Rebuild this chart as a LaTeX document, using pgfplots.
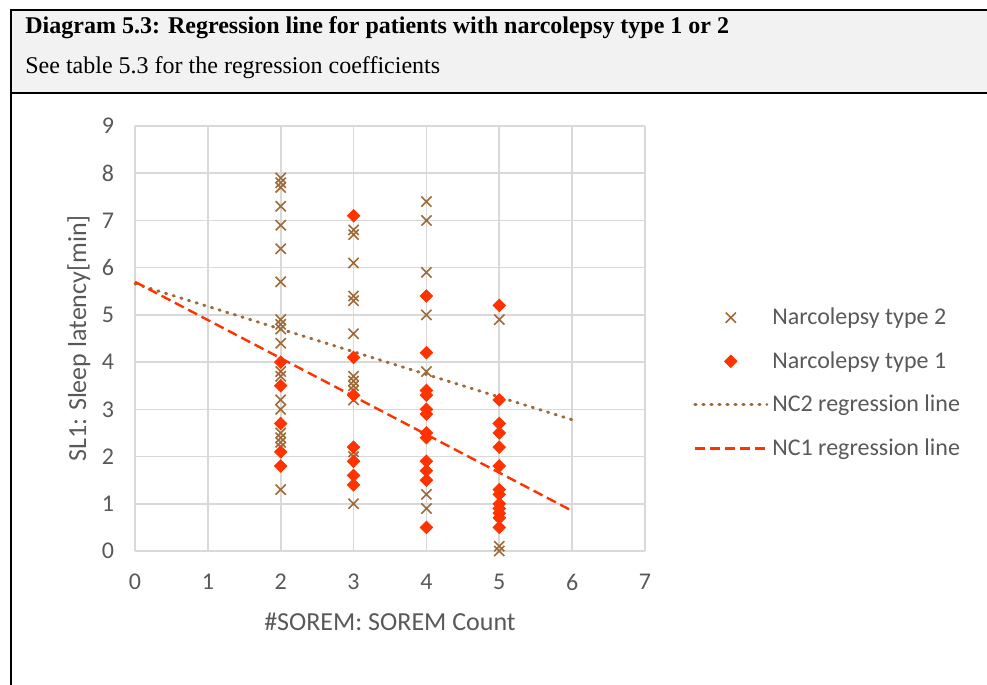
\documentclass[border=0pt]{standalone}
\usepackage{pgfplots}
\pgfplotsset{compat=1.18}
\usepackage{fontspec}
\setmainfont{Carlito}
\newfontfamily\timesfont{Liberation Serif}
\definecolor{nctwo}{RGB}{158,106,56}
\definecolor{ncone}{RGB}{255,51,0}
\definecolor{txtgray}{RGB}{89,89,89}
\definecolor{gridgray}{RGB}{217,217,217}
\definecolor{headgray}{RGB}{242,242,242}
\pgfplotsset{
  legmark/.style={legend image code/.code={\draw[##1] plot coordinates {(18pt,0pt)};}},
  legline/.style={legend image code/.code={\draw[##1] (0pt,0pt) -- (36pt,0pt);}},
}
\begin{document}
\begin{tikzpicture}[x=0.5pt,y=-0.5pt]
\useasboundingbox (0,0) rectangle (987,685);
% caption box
\fill[headgray] (11,10) rectangle (1000,93);
\draw[line width=1pt] (11,720) -- (11,10) -- (1000,10);
\draw[line width=1pt] (11,93) -- (1000,93);
\node[anchor=base west,inner sep=0pt,font=\timesfont\bfseries\fontsize{12}{14}\selectfont] at (25,33)
  {Diagram 5.3: Regression line for patients with narcolepsy type 1 or 2};
\node[anchor=base west,inner sep=0pt,font=\timesfont\fontsize{12}{14}\selectfont] at (25,74)
  {See table 5.3 for the regression coefficients};
\begin{axis}[
  at={(67.5pt,-275.5pt)}, anchor=south west,
  scale only axis, width=255pt, height=212.5pt,
  xmin=0, xmax=7, ymin=0, ymax=9,
  xtick={0,...,7}, ytick={0,...,9},
  grid=major, grid style={gridgray,line width=0.8pt},
  axis line style={draw=none}, tick style={draw=none},
  ticklabel style={font=\fontsize{12}{14}\selectfont,text=txtgray},
  /pgf/number format/assume math mode=true,
  xticklabel style={yshift=-8pt},
  yticklabel style={xshift=-7pt},
  xlabel={\#SOREM: SOREM Count},
  ylabel={SL1: Sleep latency[min]},
  label style={font=\fontsize{13}{15}\selectfont,text=txtgray},
  xlabel style={at={(axis description cs:0.5,-0.167)},anchor=center},
  ylabel style={at={(axis description cs:-0.11,0.5)},anchor=center},
  legend style={draw=none,fill=none,at={(axis description cs:1.094,0.395)},anchor=west,
    font=\fontsize{12}{14}\selectfont,text=txtgray,row sep=8pt,inner sep=0pt},
  legend cell align=left,
  clip=false,
]
\addplot[only marks,mark=x,mark size=3.6pt,color=nctwo,mark options={line width=0.8pt},legmark] table {
x y
2 7.9
2 7.8
2 7.7
2 7.3
2 6.9
2 6.4
2 5.7
2 4.9
2 4.8
2 4.7
2 4.4
2 3.8
2 3.7
2 3.2
2 3.0
2 2.5
2 2.4
2 2.3
2 2.2
2 1.3
3 6.8
3 6.7
3 6.1
3 5.4
3 5.3
3 4.6
3 3.7
3 3.6
3 3.5
3 3.4
3 3.2
3 2.1
3 2.0
3 1.0
4 7.4
4 7.0
4 5.9
4 5.0
4 3.8
4 1.2
4 0.9
5 4.9
5 0.1
5 0.0
};
\addlegendentry{Narcolepsy type 2}
\addplot[only marks,mark=square*,mark size=2.2pt,color=ncone,mark options={rotate=45},legmark] table {
x y
2 4.0
2 3.5
2 2.7
2 2.1
2 1.8
3 7.1
3 4.1
3 3.3
3 2.2
3 1.9
3 1.6
3 1.4
4 5.4
4 4.2
4 3.4
4 3.3
4 3.0
4 2.9
4 2.5
4 2.4
4 1.9
4 1.7
4 1.5
4 0.5
5 5.2
5 3.2
5 2.7
5 2.5
5 2.2
5 1.8
5 1.3
5 1.2
5 1.0
5 0.9
5 0.8
5 0.7
5 0.5
};
\addlegendentry{Narcolepsy type 1}
\addplot[nctwo,line width=1.5pt,line cap=round,dash pattern=on 0.6pt off 3.4pt,legline] coordinates {(0,5.66) (6,2.78)};
\addlegendentry{NC2 regression line}
\addplot[ncone,line width=1.2pt,dash pattern=on 5pt off 2.5pt,legline] coordinates {(0,5.70) (6,0.85)};
\addlegendentry{NC1 regression line}
\end{axis}
\end{tikzpicture}
\end{document}
